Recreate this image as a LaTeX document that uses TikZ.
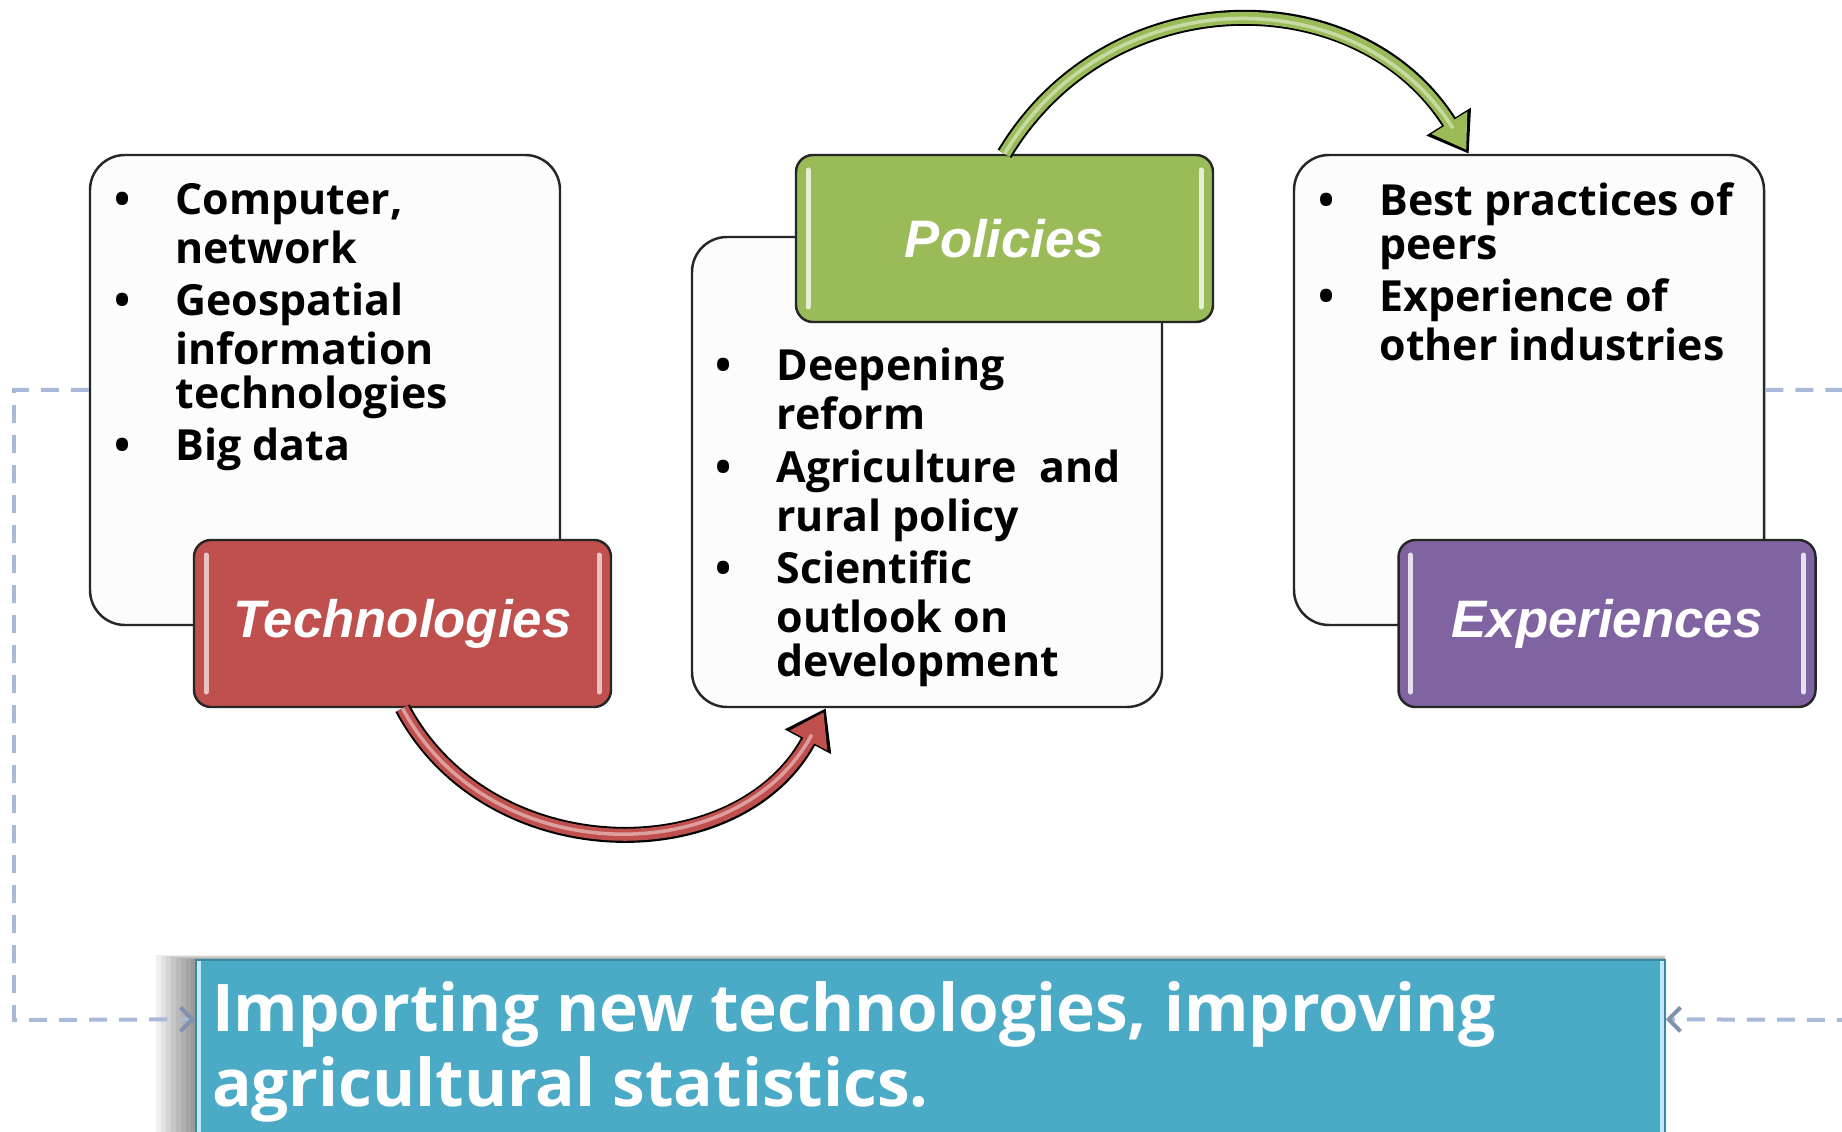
\documentclass[tikz,border=0pt]{standalone}
\usepackage{fontspec}
\setmainfont{Open Sans}
\newfontfamily\labelfont{Liberation Sans}
\usetikzlibrary{arrows.meta,positioning,calc}
\definecolor{techred}{RGB}{192,80,77}
\definecolor{policygreen}{RGB}{155,187,89}
\definecolor{exppurple}{RGB}{128,100,162}
\definecolor{importblue}{RGB}{75,170,198}
\definecolor{dashblue}{RGB}{168,186,216}
\definecolor{tipblue}{RGB}{128,146,176}
\definecolor{boxwhite}{RGB}{252,252,252}

\newcommand{\bul}{\llap{\strut\textbullet\hspace{0.45cm}}}

\tikzset{
  listbox/.style={draw=black!85, line width=0.7pt, rounded corners=0.35cm, fill=boxwhite,
    minimum width=4.70cm, minimum height=4.70cm},
  listtext/.style={anchor=north west, inner sep=0pt, align=left,
    font=\bfseries\fontsize{12.2}{12.35}\selectfont},
  labelbox/.style 2 args={draw=black!85, line width=0.7pt, rounded corners=0.17cm, fill=#1,
    minimum width=4.17cm, minimum height=1.67cm, text=white,
    font=\labelfont\bfseries\itshape\fontsize{15}{18}\selectfont,
    path picture={
      \draw[#2, line width=0.05cm, line cap=round]
        ([shift={(0.12,0.15)}]path picture bounding box.south west) -- ([shift={(0.12,-0.15)}]path picture bounding box.north west)
        ([shift={(-0.12,0.15)}]path picture bounding box.south east) -- ([shift={(-0.12,-0.15)}]path picture bounding box.north east);
    }},
  importbox/.style={draw=importblue!80!black, line width=0.4pt, fill=importblue,
    minimum width=14.69cm, minimum height=2.3cm,
    path picture={
      \fill[cyan!25!white] (path picture bounding box.south west) rectangle ([xshift=0.05cm]path picture bounding box.north west);
      \fill[cyan!25!white] (path picture bounding box.south east) rectangle ([xshift=-0.05cm]path picture bounding box.north east);
    }},
  arrowrim/.style={draw=black, line width=0.16cm, -{Triangle[length=0.38cm,width=0.50cm]}},
  arrowbody/.style={draw=#1, line width=0.12cm, shorten >=0.045cm, -{Triangle[length=0.32cm,width=0.40cm]}},
  arrowshine/.style={draw=#1, line width=0.035cm, shorten >=0.3cm},
  dashline/.style={draw=dashblue, line width=0.04cm, dash pattern=on 0.18cm off 0.12cm,
    -{Straight Barb[length=0.12cm,width=0.24cm,color=tipblue]}}
}

\begin{document}
\begin{tikzpicture}
    \useasboundingbox (0,0) rectangle (18.42,11.31);
    \clip (0,0) rectangle (18.42,11.31);
    \fill[white] (0,0) rectangle (18.42,11.31);

    % List boxes
    \node[listbox] (techlist) at (3.25,7.41) {};
    \node[listbox] (policylist) at (9.27,6.59) {};
    \node[listbox] (explist) at (15.29,7.41) {};

    \node[listtext] (techitems) at ([shift={(0.86,-0.285)}]techlist.north west)
        {\bul Computer,\\network\\[0.09cm]\bul Geospatial\\information\\technologies\\[0.09cm]\bul Big data};
    \node[listtext] (policyitems) at ([shift={(0.85,-1.115)}]policylist.north west)
        {\bul Deepening\\reform\\[0.09cm]\bul Agriculture~~and\\rural policy\\[0.09cm]\bul Scientific\\outlook on\\development};
    \node[listtext] (expitems) at ([shift={(0.86,-0.285)}]explist.north west)
        {\bul Best practices of\\peers\\[0.09cm]\bul Experience of\\other industries};

    % Label boxes
    \node[labelbox={techred}{techred!35!white}] (tech) at (4.025,5.075) {Technologies};
    \node[labelbox={policygreen}{policygreen!25!white}] (policy) at (10.045,8.925) {Policies};
    \node[labelbox={exppurple}{exppurple!20!white}] (exp) at (16.07,5.075) {Experiences};

    % Curved arrows
    \coordinate (redend) at ([xshift=1.35cm]policylist.south west);
    \coordinate (greenend) at ([xshift=1.76cm]explist.north west);
    \draw[arrowrim] (tech.south) to[out=-62, in=-118, looseness=1.12] (redend);
    \draw[arrowbody=techred] (tech.south) to[out=-62, in=-118, looseness=1.12] (redend);
    \draw[arrowshine=techred!55!white] (tech.south) to[out=-62, in=-118, looseness=1.12] (redend);
    \draw[arrowrim] (policy.north) to[out=59, in=122, looseness=1.14] (greenend);
    \draw[arrowbody=policygreen] (policy.north) to[out=59, in=122, looseness=1.14] (greenend);
    \draw[arrowshine=policygreen!55!white] (policy.north) to[out=59, in=122, looseness=1.14] (greenend);

    % Bottom box with soft shadow
    \foreach \i in {1,...,8}
        \fill[black, opacity=0.06] (1.96-0.05*\i,1.71+0.006*\i) rectangle (16.65,-1);
    \node[importbox] (import) at (9.305,0.56) {};
    \node[anchor=north west, inner sep=0pt, align=left, text=white,
          font=\bfseries\fontsize{18.7}{21.3}\selectfont] (importtext)
        at ([shift={(0.16,-0.195)}]import.north west)
        {\strut Importing new technologies, improving\\agricultural statistics.};

    % Dashed feedback lines
    \coordinate (lcorner) at (0.14,1.11);
    \coordinate (rcorner) at (18.70,1.11);
    \coordinate (importleft) at ([yshift=-0.60cm]import.north west);
    \coordinate (importright) at ([yshift=-0.60cm]import.north east);
    \draw[dashline] (techlist.west) -| (lcorner) -- (importleft);
    \draw[dashline] (explist.east) -| (rcorner) -- (importright);
\end{tikzpicture}
\end{document}
